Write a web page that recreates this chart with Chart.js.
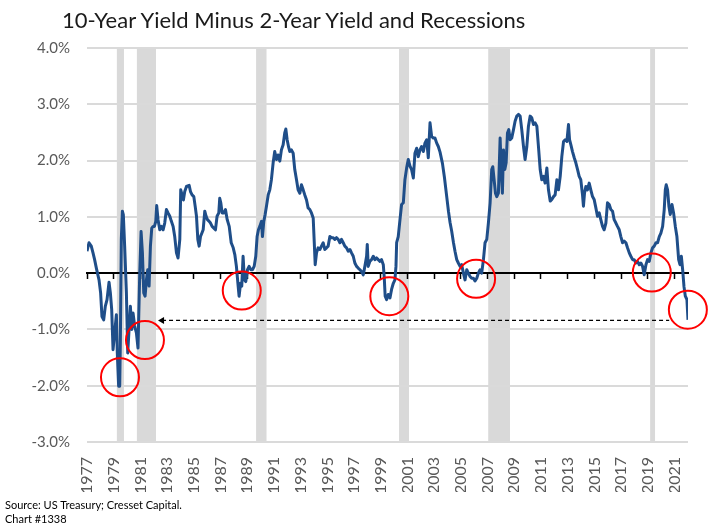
<!DOCTYPE html>
<html>
<head>
<meta charset="utf-8">
<title>10-Year Yield Minus 2-Year Yield and Recessions</title>
<script src="https://cdn.jsdelivr.net/npm/chart.js@4"></script>
<style>
    body { margin: 0; background: #fff; }
    #wrap { position: relative; width: 725px; height: 527px; }
    #spread-chart { position: absolute; left: 0; top: 0; }
    #title { position: absolute; left: 62px; top: 6px; font: 22px Lato, sans-serif; color: #1a1a1a; white-space: nowrap; }
    #source { position: absolute; left: 5px; top: 498px; font: 11px Lato, sans-serif; line-height: 14px; color: #000; white-space: nowrap; }
</style>
</head>
<body>
<div id="wrap">
    <canvas id="spread-chart" width="725" height="527"></canvas>
    <div id="title">10-Year Yield Minus 2-Year Yield and Recessions</div>
    <div id="source">Source: US Treasury; Cresset Capital.<br>Chart #1338</div>
</div>
<script>
// 10y minus 2y spread, % (decimal year)
const spreadYears = [
    1977.83, 1977.98, 1978.15, 1978.28, 1978.40, 1978.53, 1978.73, 1978.85, 1978.95, 1979.08,
    1979.20, 1979.33, 1979.48, 1979.58, 1979.68, 1979.78, 1979.90, 1980.03, 1980.10, 1980.20,
    1980.28, 1980.33, 1980.40, 1980.48, 1980.55, 1980.65, 1980.78, 1980.88, 1980.98, 1981.08,
    1981.18, 1981.28, 1981.40, 1981.53, 1981.65, 1981.78, 1981.88, 1981.98, 1982.08, 1982.18,
    1982.28, 1982.38, 1982.48, 1982.58, 1982.68, 1982.78, 1982.88, 1982.98, 1983.05, 1983.15,
    1983.28, 1983.40, 1983.53, 1983.65, 1983.78, 1983.90, 1984.03, 1984.15, 1984.28, 1984.40,
    1984.53, 1984.65, 1984.78, 1984.85, 1984.95, 1985.05, 1985.15, 1985.28, 1985.48, 1985.58,
    1985.70, 1985.83, 1985.93, 1986.03, 1986.13, 1986.23, 1986.33, 1986.43, 1986.53, 1986.65,
    1986.75, 1986.85, 1986.98, 1987.08, 1987.20, 1987.33, 1987.45, 1987.57, 1987.70, 1987.77,
    1987.85, 1987.95, 1988.08, 1988.20, 1988.33, 1988.48, 1988.63, 1988.78, 1988.90, 1989.02,
    1989.15, 1989.22, 1989.33, 1989.42, 1989.52, 1989.62, 1989.72, 1989.85, 1989.97, 1990.10,
    1990.22, 1990.35, 1990.47, 1990.57, 1990.67, 1990.77, 1990.90, 1990.97, 1991.07, 1991.17,
    1991.27, 1991.40,
    1991.52, 1991.64, 1991.77, 1991.89, 1992.02, 1992.14, 1992.27, 1992.39, 1992.52, 1992.64,
    1992.72, 1992.82, 1992.92, 1993.02, 1993.14, 1993.27, 1993.39, 1993.52, 1993.64, 1993.77,
    1993.89, 1994.02, 1994.14, 1994.27, 1994.39, 1994.52, 1994.64, 1994.77, 1994.84, 1994.92,
    1995.02, 1995.14, 1995.27, 1995.39, 1995.52, 1995.64, 1995.77, 1995.89, 1996.02, 1996.14,
    1996.27, 1996.39, 1996.52, 1996.64, 1996.77, 1996.89, 1997.02, 1997.14, 1997.27, 1997.39,
    1997.52, 1997.64, 1997.77, 1997.89, 1998.02, 1998.14, 1998.27, 1998.39, 1998.52, 1998.64,
    1998.77, 1998.82, 1998.89, 1999.02, 1999.14, 1999.27, 1999.39, 1999.52, 1999.64, 1999.77,
    1999.89, 2000.02, 2000.09, 2000.16, 2000.27, 2000.39, 2000.52, 2000.64, 2000.77, 2000.89,
    2000.97, 2001.02, 2001.14, 2001.27, 2001.39, 2001.52, 2001.64, 2001.77, 2001.89, 2002.02,
    2002.14, 2002.27, 2002.39, 2002.52, 2002.64, 2002.77, 2002.89, 2003.02, 2003.14, 2003.27,
    2003.39, 2003.52, 2003.64, 2003.77, 2003.89, 2004.02, 2004.14,
    2004.27, 2004.45, 2004.60, 2004.75, 2004.90, 2005.02, 2005.14, 2005.27, 2005.39, 2005.52,
    2005.64, 2005.77, 2005.89, 2006.02, 2006.14, 2006.27, 2006.39, 2006.52, 2006.64, 2006.77,
    2006.89, 2007.02, 2007.14, 2007.27, 2007.39, 2007.52, 2007.64, 2007.77, 2007.89, 2008.02,
    2008.14, 2008.22, 2008.32, 2008.42, 2008.52, 2008.64, 2008.77, 2008.84, 2008.94, 2009.02,
    2009.12, 2009.22, 2009.32, 2009.42, 2009.52, 2009.64, 2009.77, 2009.89, 2010.02, 2010.14,
    2010.27, 2010.39, 2010.52, 2010.64, 2010.77, 2010.89, 2011.02, 2011.14, 2011.27, 2011.39,
    2011.52, 2011.64, 2011.77, 2011.89, 2012.02, 2012.14, 2012.27, 2012.39, 2012.52, 2012.64,
    2012.77, 2012.89, 2013.02, 2013.14, 2013.27, 2013.39, 2013.52, 2013.64, 2013.77, 2013.89,
    2013.97, 2014.07, 2014.19, 2014.32, 2014.44, 2014.57, 2014.69, 2014.81, 2014.94, 2015.01,
    2015.09, 2015.19, 2015.31, 2015.44, 2015.56, 2015.69, 2015.81, 2015.94, 2016.06, 2016.19,
    2016.31, 2016.44, 2016.56, 2016.69, 2016.81, 2016.94, 2017.06, 2017.19, 2017.31, 2017.44,
    2017.56, 2017.69, 2017.81, 2017.94, 2018.06, 2018.19, 2018.31, 2018.44, 2018.56, 2018.69,
    2018.81, 2018.94, 2019.06, 2019.19, 2019.31, 2019.44, 2019.56, 2019.69, 2019.81, 2019.94,
    2020.06, 2020.19, 2020.31, 2020.44, 2020.56, 2020.69, 2020.81, 2020.94, 2021.06, 2021.14,
    2021.21, 2021.31, 2021.41, 2021.51, 2021.64, 2021.76, 2021.89, 2022.01, 2022.14, 2022.24,
    2022.34, 2022.44, 2022.54, 2022.64, 2022.76, 2022.84
];
const spreadValues = [
    0.39, 0.54, 0.48, 0.36, 0.24, 0.09, -0.12, -0.35, -0.77, -0.83,
    -0.59, -0.47, -0.16, -0.35, -0.65, -1.36, -1.06, -0.74, -1.42, -2.01,
    -2.01, -1.18, 0.60, 1.10, 1.04, 0.48, -0.35, -1.42, -1.00, -0.59,
    -1.00, -0.71, -0.94, -1.06, -1.33, 0.00, 0.74, 0.36, -0.35, -0.41,
    -0.12, 0.06, -0.23, 0.48, 0.80, 0.83, 0.83, 0.92, 1.20, 0.95,
    0.77, 0.83, 0.77, 0.89, 1.13, 1.07, 1.01, 0.92, 0.83, 0.65,
    0.36, 0.27, 0.60, 1.48, 1.39, 1.30, 1.45, 1.54, 1.56, 1.45,
    1.39, 1.36, 1.19, 1.01, 0.60, 0.48, 0.65, 0.71, 0.77, 1.10,
    1.01, 0.95, 0.92, 0.89, 0.83, 0.80, 0.77, 1.01, 1.07, 1.33,
    1.25, 1.07, 1.07, 1.13, 0.95, 0.83, 0.54, 0.45, 0.33, 0.12,
    -0.23, -0.41, -0.18, -0.23, 0.30, -0.12, -0.15, 0.06, 0.12, 0.06,
    0.06, 0.12, 0.30, 0.65, 0.77, 0.83, 0.92, 0.65, 0.92, 1.04,
    1.19, 1.39,
    1.48, 1.66, 1.96, 2.16, 2.02, 2.10, 1.99, 2.19, 2.28, 2.49,
    2.56, 2.37, 2.25, 2.16, 2.19, 2.13, 1.84, 1.66, 1.48, 1.42,
    1.57, 1.48, 1.39, 1.30, 1.16, 1.13, 1.07, 0.98, 0.60, 0.15,
    0.36, 0.45, 0.42, 0.48, 0.54, 0.42, 0.45, 0.48, 0.65, 0.63,
    0.63, 0.60, 0.63, 0.60, 0.54, 0.60, 0.54, 0.48, 0.45, 0.39,
    0.42, 0.36, 0.30, 0.18, 0.12, 0.09, 0.06, 0.03, -0.03, 0.12,
    0.30, 0.51, 0.12, 0.21, 0.24, 0.30, 0.24, 0.27, 0.24, 0.21,
    0.24, 0.15, -0.07, -0.41, -0.47, -0.38, -0.44, -0.29, -0.18, -0.12,
    0.12, 0.54, 0.65, 0.95, 1.22, 1.25, 1.66, 1.87, 2.02, 1.90,
    1.84, 1.69, 2.13, 2.22, 2.07, 2.19, 2.25, 2.16, 2.31, 2.37,
    2.05, 2.67, 2.43, 2.40, 2.40, 2.31, 2.25,
    2.15, 1.95, 1.70, 1.40, 1.10, 0.90, 0.75, 0.55, 0.39, 0.24,
    0.18, 0.12, 0.15, 0.00, -0.12, 0.06, 0.00, -0.06, -0.09, -0.09,
    -0.14, -0.09, 0.00, 0.06, 0.00, 0.24, 0.54, 0.60, 0.89, 1.25,
    1.84, 1.89, 1.66, 1.42, 1.36, 1.42, 2.40, 1.90, 1.42, 2.19,
    1.84, 1.96, 2.49, 2.55, 2.37, 2.40, 2.55, 2.70, 2.79, 2.82,
    2.79, 2.55, 2.25, 2.02, 2.25, 2.61, 2.79, 2.76, 2.64, 2.67,
    2.61, 2.25, 1.84, 1.66, 1.72, 1.60, 1.87, 1.48, 1.28, 1.31,
    1.36, 1.39, 1.66, 1.48, 1.72, 2.07, 2.34, 2.37, 2.34, 2.64,
    2.37, 2.28, 2.16, 2.05, 1.96, 1.84, 1.72, 1.66, 1.39, 1.19,
    1.42, 1.54, 1.48, 1.60, 1.48, 1.36, 1.31, 1.16, 1.01, 1.07,
    0.95, 0.83, 0.77, 0.89, 1.25, 1.22, 1.13, 1.10, 0.95, 0.89,
    0.83, 0.77, 0.65, 0.54, 0.57, 0.54, 0.45, 0.36, 0.30, 0.24,
    0.24, 0.18, 0.21, 0.15, 0.18, 0.12, -0.03, 0.15, 0.24, 0.21,
    0.36, 0.45, 0.48, 0.54, 0.54, 0.65, 0.71, 0.83, 1.13, 1.48,
    1.57, 1.48, 1.19, 1.04, 1.22, 1.07, 0.83, 0.65, 0.24, 0.15,
    0.30, 0.06, -0.24, -0.41, -0.47, -0.83
];

// recession periods (shaded)
const recessionStart = [1980.05, 1981.55, 1990.49, 2001.20, 2007.87, 2020.00];
const recessionEnd = [1980.60, 1983.00, 1991.29, 2001.95, 2009.52, 2020.38];

// red circles marking the inversions
const circleYears = [1980.30, 1982.17, 1989.42, 2000.47, 2006.97, 2020.13, 2022.83];
const circleValues = [-1.85, -1.19, -0.31, -0.41, -0.10, 0.01, -0.65];

// dashed arrow back to the 1981 level
const arrowYears = [1983.45, 2021.43];
const arrowLevel = -0.84;

// x labels, one every two years from the first observation
const xTickLabels = ['1977', '1979', '1981', '1983', '1985', '1987', '1989', '1991', '1993', '1995', '1997', '1999',
    '2001', '2003', '2005', '2007', '2009', '2011', '2013', '2015', '2017', '2019', '2021'];

const yMin = -3;
const yMax = 4;

Chart.defaults.font.family = 'Lato, sans-serif';

const firstYear = spreadYears[0];
const lastYear = spreadYears[spreadYears.length - 1];

function setYearTicks(scale) {
    scale.ticks = xTickLabels.map((label, i) => ({ value: firstYear + 2 * i }));
}

const recessionSets = recessionStart.map((start, i) => ({
    type: 'line',
    data: [{ x: start, y: yMax }, { x: recessionEnd[i], y: yMax }],
    borderWidth: 0,
    pointRadius: 0,
    backgroundColor: '#d9d9d9',
    fill: { value: yMin },
    order: 10
}));

const spreadSet = {
    type: 'line',
    data: spreadYears.map((yr, i) => ({ x: yr, y: spreadValues[i] })),
    borderColor: '#1f4e89',
    borderWidth: 3,
    borderJoinStyle: 'round',
    pointRadius: 0,
    fill: false,
    order: 3
};

const arrowSet = {
    type: 'line',
    data: arrowYears.map(yr => ({ x: yr, y: arrowLevel })),
    borderColor: '#000',
    borderWidth: 1.3,
    borderDash: [4, 3],
    pointStyle: 'triangle',
    pointRotation: 270,
    pointRadius: [4, 0],
    pointBackgroundColor: '#000',
    pointBorderWidth: 0,
    fill: false,
    order: 2
};

const circleSet = {
    type: 'scatter',
    data: circleYears.map((yr, i) => ({ x: yr, y: circleValues[i] })),
    pointRadius: 19,
    pointBorderWidth: 2,
    pointBorderColor: '#ff0000',
    pointBackgroundColor: 'rgba(0,0,0,0)',
    clip: false,
    order: 1
};

new Chart(document.getElementById('spread-chart'), {
    type: 'line',
    data: {
        datasets: [circleSet, arrowSet, spreadSet].concat(recessionSets)
    },
    options: {
        responsive: false,
        animation: false,
        devicePixelRatio: 1,
        layout: {
            padding: { left: 5, right: 37, top: 48, bottom: 35 }
        },
        plugins: {
            legend: { display: false },
            tooltip: { enabled: false },
            filler: { drawTime: 'beforeDraw' }
        },
        scales: {
            x: {
                type: 'linear',
                min: firstYear,
                max: lastYear,
                afterBuildTicks: setYearTicks,
                afterFit: s => { s.height = 50; },
                grid: { display: false },
                border: { display: false },
                ticks: {
                    autoSkip: false,
                    minRotation: 90,
                    maxRotation: 90,
                    padding: 7,
                    color: '#595959',
                    font: { size: 16 },
                    callback: (v, i) => xTickLabels[i]
                }
            },
            xZero: {
                type: 'linear',
                axis: 'x',
                position: { y: 0 },
                min: firstYear,
                max: lastYear,
                afterBuildTicks: setYearTicks,
                ticks: { display: false },
                grid: {
                    drawOnChartArea: false,
                    drawTicks: true,
                    tickLength: 5,
                    tickColor: '#000',
                    tickWidth: 1.5
                },
                border: { display: true, color: '#000', width: 2 }
            },
            y: {
                min: yMin,
                max: yMax,
                afterFit: s => { s.width = 82; },
                border: { display: false },
                grid: {
                    color: '#dadada',
                    lineWidth: 2,
                    drawTicks: false
                },
                ticks: {
                    stepSize: 1,
                    padding: 17,
                    color: '#595959',
                    font: { size: 15 },
                    callback: v => v.toFixed(1) + '%'
                }
            }
        }
    }
});
</script>
</body>
</html>
